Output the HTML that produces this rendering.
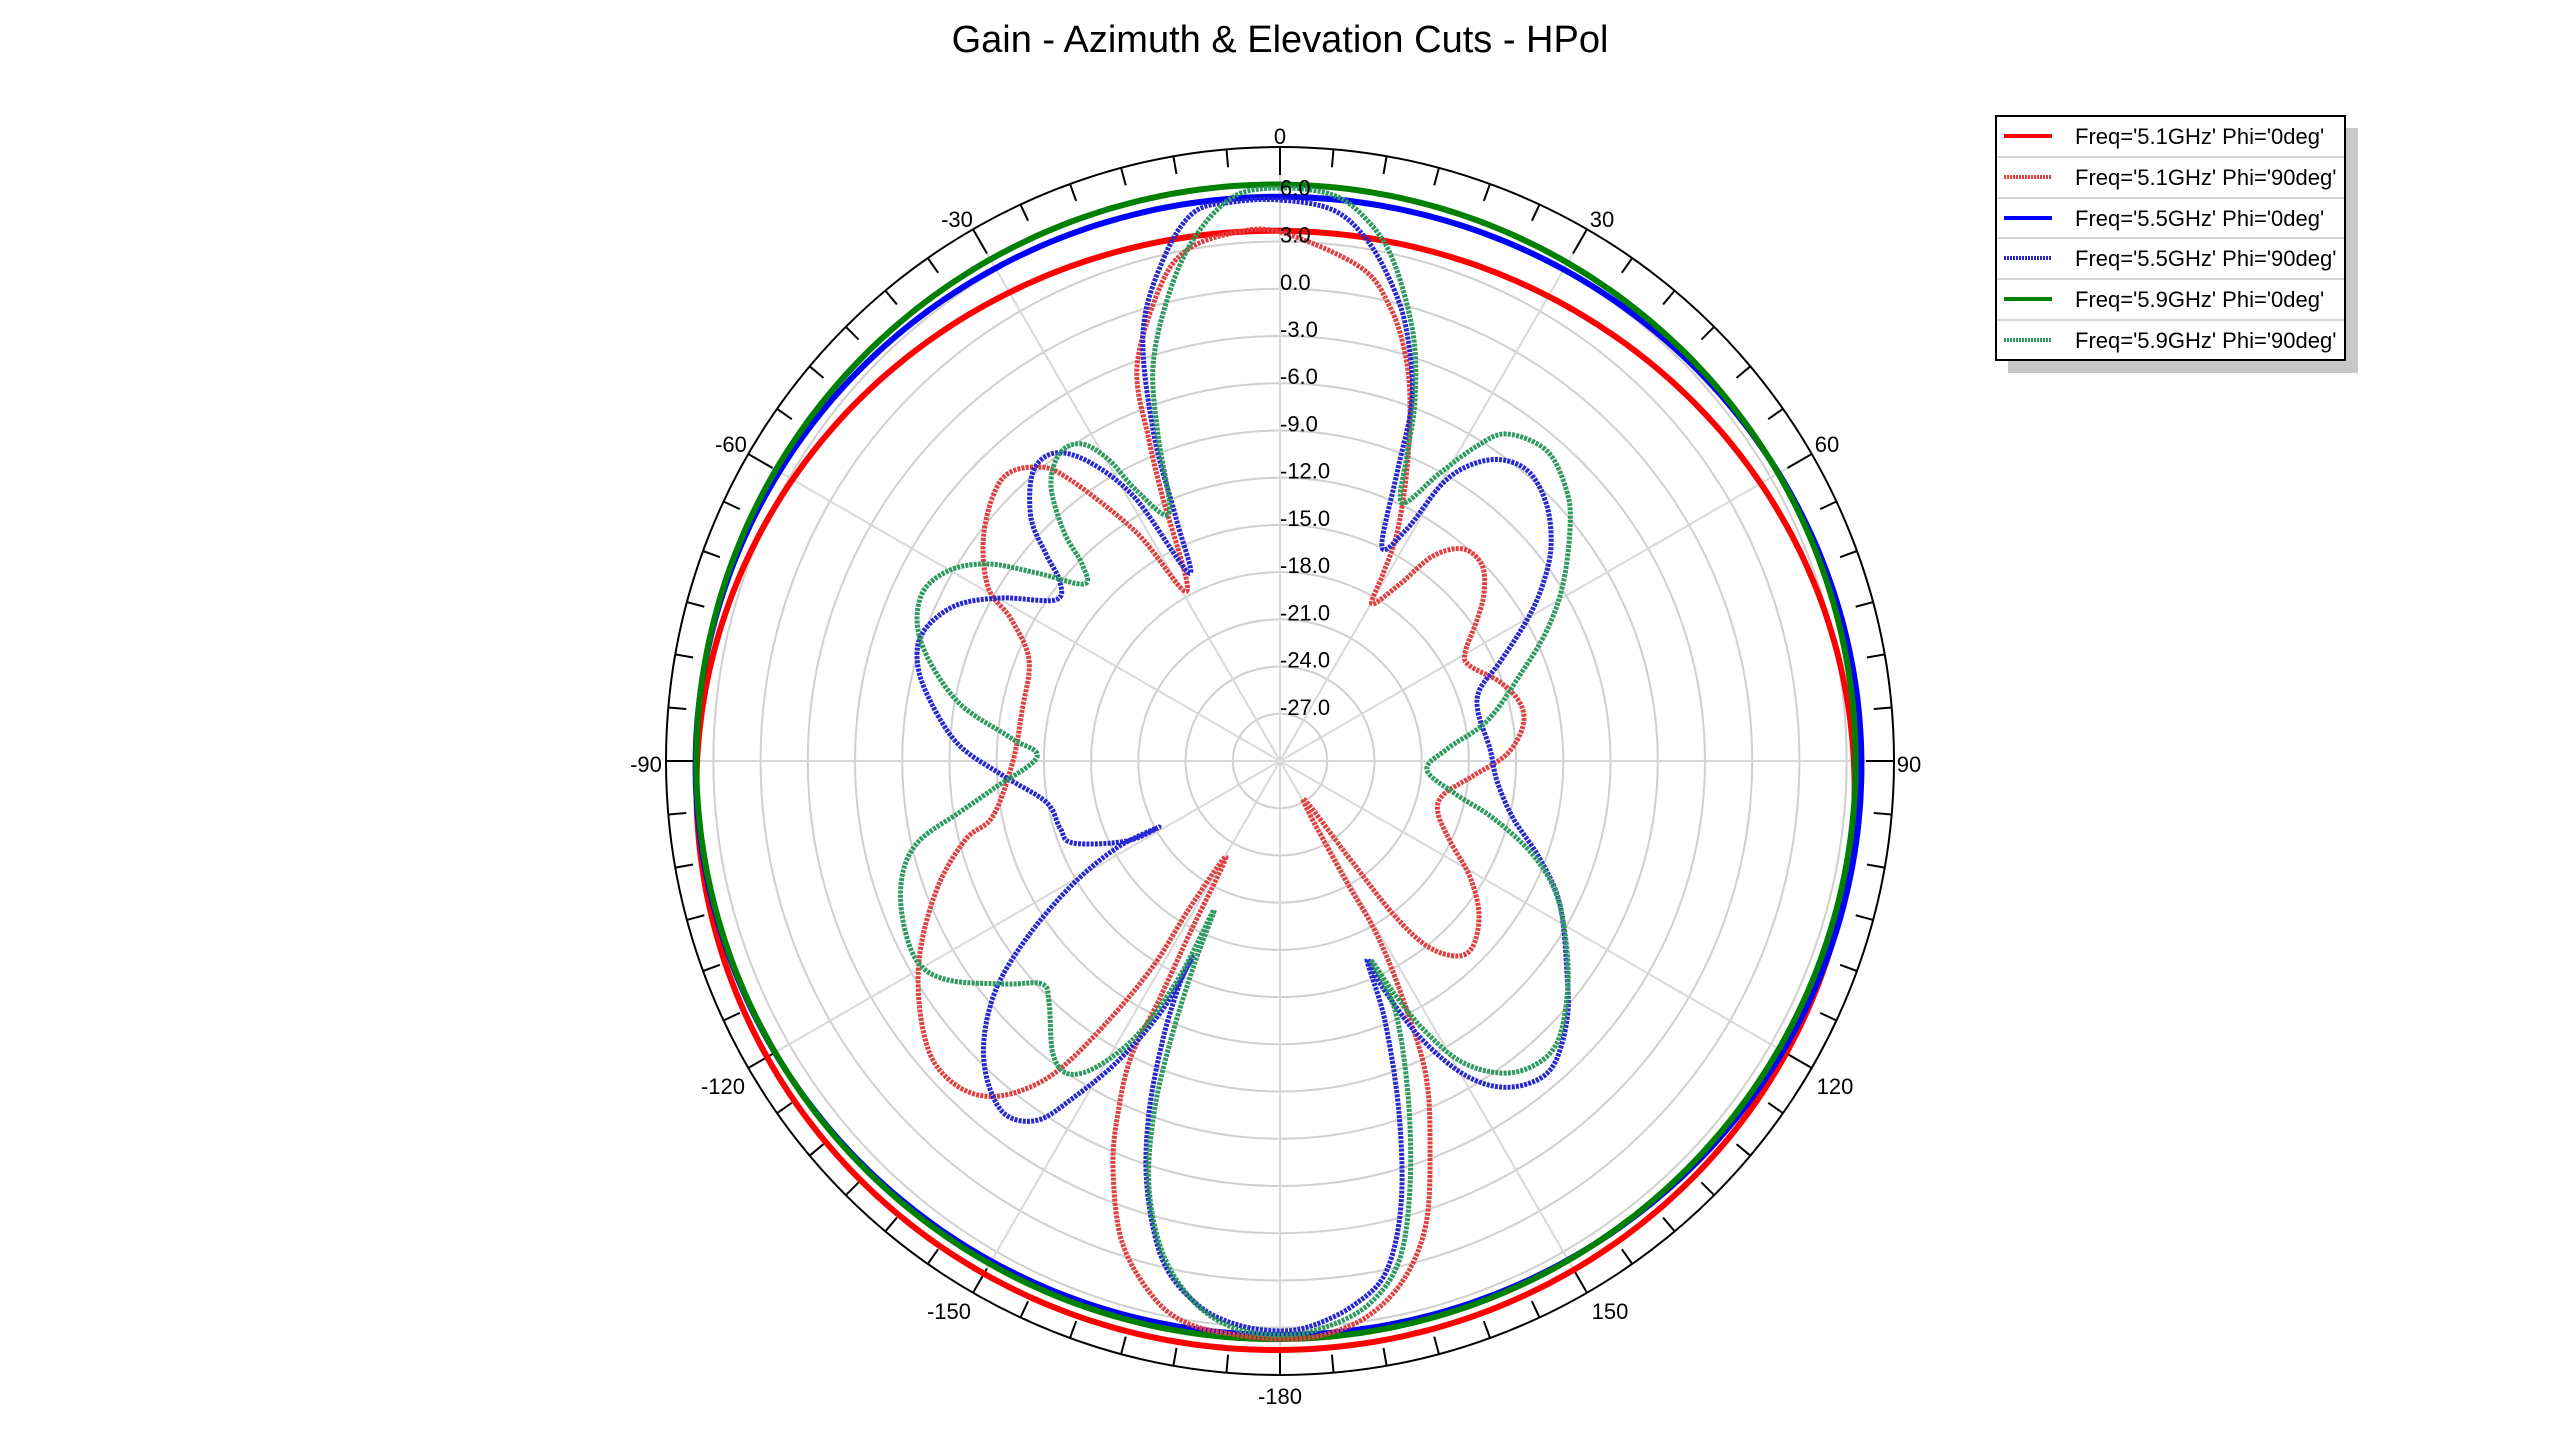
<!DOCTYPE html>
<html><head><meta charset="utf-8">
<style>
html,body{margin:0;padding:0;background:#fff;}
svg{display:block;font-family:"Liberation Sans",Arial,sans-serif;}
</style></head>
<body>
<svg id="s" width="2560" height="1440" viewBox="0 0 2560 1440" xmlns="http://www.w3.org/2000/svg">
<rect width="2560" height="1440" fill="#fff"/>
<text x="1280" y="52" font-size="38" text-anchor="middle" fill="#000">Gain - Azimuth &amp; Elevation Cuts - HPol</text>
<g id="grid"></g>
<g id="curves"></g>
<g id="labels" font-size="22" fill="#000"></g>
<!-- legend -->
<rect x="2008" y="128" width="350" height="245" fill="#c8c8c8"/>
<rect x="1996" y="116" width="349" height="244" fill="#fff" stroke="#000" stroke-width="2"/>
<g stroke="#c8c8c8" stroke-width="1.5">
<line x1="1997" y1="157" x2="2344" y2="157"/><line x1="1997" y1="198" x2="2344" y2="198"/>
<line x1="1997" y1="238" x2="2344" y2="238"/><line x1="1997" y1="279" x2="2344" y2="279"/>
<line x1="1997" y1="320" x2="2344" y2="320"/>
</g>
<g stroke-width="4">
<line x1="2004" y1="136" x2="2052" y2="136" stroke="#ff0000"/>
<line x1="2004" y1="177" x2="2052" y2="177" stroke="#e04040" stroke-dasharray="2 1"/>
<line x1="2004" y1="218" x2="2052" y2="218" stroke="#0000ff"/>
<line x1="2004" y1="258" x2="2052" y2="258" stroke="#2828d0" stroke-dasharray="2 1"/>
<line x1="2004" y1="299" x2="2052" y2="299" stroke="#008000"/>
<line x1="2004" y1="340" x2="2052" y2="340" stroke="#2e9a60" stroke-dasharray="2 1"/>
</g>
<g font-size="22" fill="#000">
<text x="2075" y="144">Freq='5.1GHz' Phi='0deg'</text>
<text x="2075" y="185">Freq='5.1GHz' Phi='90deg'</text>
<text x="2075" y="226">Freq='5.5GHz' Phi='0deg'</text>
<text x="2075" y="266">Freq='5.5GHz' Phi='90deg'</text>
<text x="2075" y="307">Freq='5.9GHz' Phi='0deg'</text>
<text x="2075" y="348">Freq='5.9GHz' Phi='90deg'</text>
</g>
</svg>
<script>
(function(){
var NS="http://www.w3.org/2000/svg",cx=1280,cy=761,R=614,K=15.74;
function el(t,a,p){var e=document.createElementNS(NS,t);for(var k in a)e.setAttribute(k,a[k]);p.appendChild(e);return e;}
var g=document.getElementById('grid'),c=document.getElementById('curves'),L=document.getElementById('labels');
for(var d=-27;d<=6;d+=3){el('circle',{cx:cx,cy:cy,r:(d+30)*K,fill:'none',stroke:'#d0d0d0','stroke-width':2},g);}
for(var a=0;a<180;a+=30){var t=a*Math.PI/180;el('line',{x1:cx-R*Math.sin(t),y1:cy+R*Math.cos(t),x2:cx+R*Math.sin(t),y2:cy-R*Math.cos(t),stroke:'#d8d8d8','stroke-width':2},g);}
el('circle',{cx:cx,cy:cy,r:R,fill:'none',stroke:'#000','stroke-width':2},g);
for(var a=0;a<360;a+=5){var t=a*Math.PI/180,l=(a%30==0)?28:18;el('line',{x1:cx+R*Math.sin(t),y1:cy-R*Math.cos(t),x2:cx+(R-l)*Math.sin(t),y2:cy-(R-l)*Math.cos(t),stroke:'#000','stroke-width':2},g);}
for(var d=-27;d<=6;d+=3){var tx=el('text',{x:1280,y:cy-(d+30)*K+1,'font-size':22},L);tx.textContent=d.toFixed(1);}
var al=[["0",1280,144],["30",1602,227],["60",1827,452],["90",1909,772],["120",1835,1094],["150",1610,1319],["-180",1280,1404],["-150",949,1319],["-120",723,1094],["-90",646,772],["-60",731,452],["-30",957,227]];
al.forEach(function(q){var tx=el('text',{x:q[1],y:q[2],'text-anchor':'middle'},L);tx.textContent=q[0];});
function solid(a0,c1,s1,c2,col){var p=[];for(var i=0;i<=360;i++){var t=i*Math.PI/180,r=a0+c1*Math.cos(t)+s1*Math.sin(t)+c2*Math.cos(2*t);p.push((cx+r*Math.sin(t)).toFixed(1)+','+(cy-r*Math.cos(t)).toFixed(1));}
el('polyline',{points:p.join(' '),fill:'none',stroke:col,'stroke-width':6},c);}
solid(569,-29.4,-4.5,-9.4,'#ff0000');
solid(576,-4.9,-1.5,-6.9,'#0000ff');
solid(578.5,-0.8,-4.0,-1.2,'#008000');
function cr(pts){var d='M'+pts[0][0]+','+pts[0][1],n=pts.length;for(var i=0;i<n;i++){var p0=pts[(i-1+n)%n],p1=pts[i],p2=pts[(i+1)%n],p3=pts[(i+2)%n];
var b1=[p1[0]+(p2[0]-p0[0])/6,p1[1]+(p2[1]-p0[1])/6],b2=[p2[0]-(p3[0]-p1[0])/6,p2[1]-(p3[1]-p1[1])/6];
d+=' C'+b1[0].toFixed(1)+','+b1[1].toFixed(1)+' '+b2[0].toFixed(1)+','+b2[1].toFixed(1)+' '+p2[0]+','+p2[1];}return d+'Z';}
var red=[[1280,232],[1360,267],[1390,307],[1405,353],[1410,400],[1407,469],[1397,533],[1383,574],[1372,604],[1400,584],[1433,556],[1463,549],[1482,565],[1484,593],[1477,620],[1465,653],[1470,666],[1500,682],[1520,703],[1523,726],[1507,754],[1473,776],[1443,795],[1438,813],[1450,841],[1470,877],[1479,914],[1473,946],[1457,956],[1427,946],[1393,914],[1350,859],[1303,799],[1341,872],[1377,935],[1404,1002],[1426,1076],[1430,1150],[1426,1224],[1404,1279],[1368,1316],[1323,1335],[1281,1339],[1238,1335],[1189,1324],[1154,1298],[1122,1242],[1113,1168],[1118,1113],[1131,1057],[1158,1002],[1189,935],[1226,857],[1189,909],[1154,965],[1109,1020],[1060,1069],[1020,1091],[984,1096],[953,1083],[930,1054],[919,1002],[921,946],[939,884],[966,839],[993,816],[1013,761],[1022,711],[1029,660],[1011,619],[988,587],[984,532],[1002,479],[1037,467],[1069,479],[1136,532],[1187,591],[1162,495],[1149,440],[1137,367],[1160,287],[1187,250],[1233,233]];
var blue=[[1280,200],[1333,210],[1367,240],[1393,287],[1407,333],[1412,400],[1397,473],[1382,547],[1407,529],[1443,483],[1473,464],[1503,460],[1530,473],[1547,506],[1551,547],[1543,584],[1527,620],[1500,662],[1480,689],[1478,712],[1490,749],[1497,781],[1513,818],[1540,859],[1560,905],[1567,974],[1567,1020],[1553,1066],[1527,1084],[1493,1086],[1457,1070],[1417,1034],[1383,988],[1367,960],[1385,1021],[1399,1113],[1401,1205],[1386,1272],[1354,1305],[1314,1325],[1281,1331],[1238,1325],[1198,1305],[1163,1261],[1147,1187],[1149,1113],[1163,1039],[1180,983],[1192,958],[1163,1009],[1118,1061],[1073,1098],[1038,1120],[1006,1115],[988,1083],[984,1039],[997,987],[1029,935],[1073,884],[1118,847],[1159,827],[1127,841],[1073,843],[1060,828],[1046,802],[1002,775],[957,743],[926,692],[917,655],[926,628],[957,605],[1002,598],[1055,600],[1060,582],[1046,554],[1031,518],[1033,472],[1055,453],[1091,463],[1136,499],[1189,573],[1176,518],[1154,435],[1143,333],[1163,260],[1193,213],[1233,202]];
var green=[[1280,188],[1333,195],[1367,220],[1393,260],[1413,333],[1415,400],[1407,455],[1402,503],[1440,473],[1477,446],[1507,434],[1547,451],[1567,492],[1570,529],[1563,584],[1547,630],[1520,675],[1487,721],[1447,749],[1427,770],[1457,795],[1493,818],[1533,855],[1557,896],[1567,951],[1567,997],[1557,1043],[1533,1066],[1500,1073],[1460,1061],[1423,1029],[1393,992],[1372,962],[1395,1010],[1408,1095],[1410,1187],[1399,1261],[1368,1305],[1323,1328],[1281,1335],[1234,1328],[1194,1302],[1163,1254],[1149,1187],[1154,1113],[1171,1039],[1194,965],[1214,910],[1180,976],[1140,1032],[1100,1065],[1069,1074],[1053,1054],[1049,1002],[1042,984],[1006,984],[948,980],[917,961],[902,915],[903,872],[920,840],[960,812],[993,789],[1037,757],[1011,738],[957,701],[921,642],[921,596],[948,571],[988,564],[1037,573],[1084,584],[1082,564],[1064,532],[1051,486],[1060,453],[1082,444],[1109,460],[1136,490],[1169,513],[1158,435],[1153,367],[1167,300],[1193,240],[1233,197]];
[[red,'#e04040'],[blue,'#2828d0'],[green,'#2e9a60']].forEach(function(q){el('path',{d:cr(q[0]),fill:'none',stroke:q[1],'stroke-width':5,'stroke-dasharray':'3 1.2','stroke-linejoin':'round'},c);});
})();
</script>
</body></html>
